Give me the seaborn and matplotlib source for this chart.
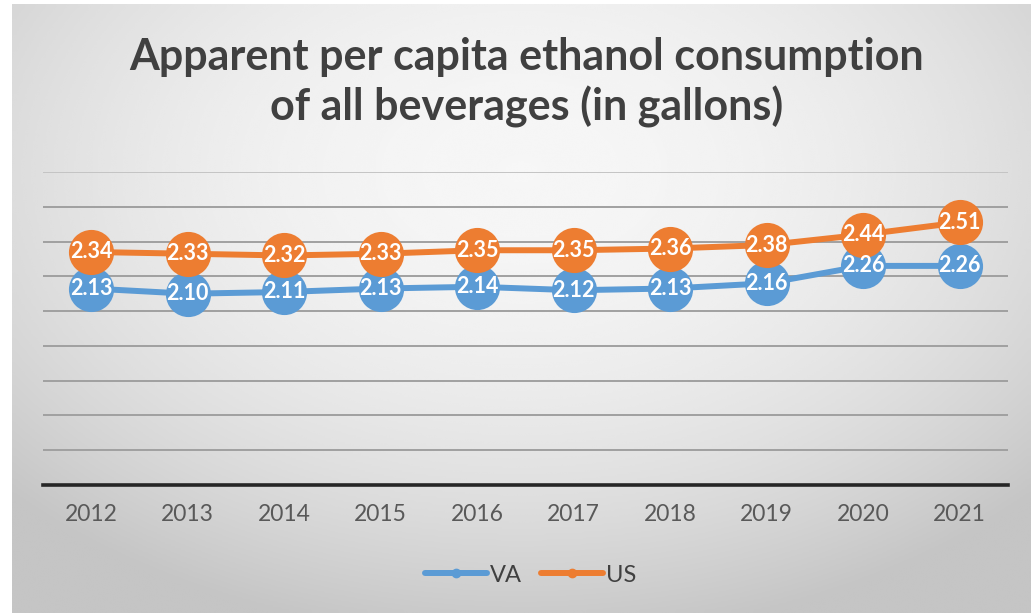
import numpy as np
import pandas as pd
import matplotlib
matplotlib.use("Agg")
import matplotlib.pyplot as plt
from matplotlib.lines import Line2D
import seaborn as sns

# Apparent per capita ethanol consumption, gallons
years = [2012, 2013, 2014, 2015, 2016, 2017, 2018, 2019, 2020, 2021]
va_values = [2.13, 2.10, 2.11, 2.13, 2.14, 2.12, 2.13, 2.16, 2.26, 2.26]
us_values = [2.34, 2.33, 2.32, 2.33, 2.35, 2.35, 2.36, 2.38, 2.44, 2.51]
series_names = ["VA", "US"]
colors = {"VA": "#5B9BD5", "US": "#ED7D31"}

df = pd.DataFrame({
    "year": years * 2,
    "value": va_values + us_values,
    "region": ["VA"] * len(years) + ["US"] * len(years),
})

sns.set_theme(style="white")
plt.rcParams["font.family"] = ["Lato", "DejaVu Sans"]

W, H = 1031, 613
fig = plt.figure(figsize=(W / 100, H / 100), dpi=100)
fig.patch.set_facecolor("white")

# Soft radial gradient panel behind the chart
bg = fig.add_axes([12 / W, 0, 1 - 12 / W, 1 - 4 / H], zorder=0)
yy, xx = np.mgrid[-1:1:300j, -1:1:500j]
r2 = (xx * 1.0) ** 2 + ((yy + 0.45) * 0.9) ** 2
shade = np.clip(0.965 - 0.10 * r2, 0.77, 0.97)
bg.imshow(shade, cmap="gray", vmin=0, vmax=1, aspect="auto",
          extent=[0, 1, 0, 1], interpolation="bicubic")
bg.set_axis_off()

ax = fig.add_axes([43 / W, (H - 485) / H, (1008 - 43) / W, (485 - 172) / H], zorder=1)
ax.patch.set_alpha(0)

sns.lineplot(data=df, x="year", y="value", hue="region", hue_order=series_names,
             palette=colors, marker="o", markersize=32.5, markeredgewidth=0,
             linewidth=4.3, legend=False, ax=ax, zorder=3)

for name, vals in zip(series_names, [va_values, us_values]):
    for x, v in zip(years, vals):
        ax.text(x, v, f"{v:.2f}", ha="center", va="center", color="white",
                fontsize=15.5, fontweight="bold", zorder=5)

ax.set_xlim(years[0] - 0.5, years[-1] + 0.5)
ax.set_ylim(1.0, 2.8)
ax.set_yticks(np.arange(1.0, 2.81, 0.2))
ax.set_yticklabels([])
ax.tick_params(axis="y", length=0)
ax.yaxis.grid(True, color="#a0a0a0", linewidth=1.4)
ax.get_ygridlines()[-1].set_color("#c4c4c4")
ax.set_axisbelow(True)
ax.set_xticks(years)
ax.set_xticklabels([str(y) for y in years], fontsize=16.5, color="#595959")
ax.tick_params(axis="x", length=0, pad=14)
ax.set_xlabel("")
ax.set_ylabel("")
for side in ["top", "right", "left"]:
    ax.spines[side].set_visible(False)
ax.spines["bottom"].set_color("#262626")
ax.spines["bottom"].set_linewidth(2.6)

fig.text(527 / W, 1 - 57 / H, "Apparent per capita ethanol consumption",
         ha="center", va="center", fontsize=31, fontweight="bold", color="#404040")
fig.text(527 / W, 1 - 107 / H, "of all beverages (in gallons)",
         ha="center", va="center", fontsize=31, fontweight="bold", color="#404040")

handles = [Line2D([0], [0], color=colors[n], linewidth=4.3, marker="o",
                  markersize=6) for n in series_names]
fig.legend(handles, series_names, loc="center", bbox_to_anchor=(531 / W, 1 - 575 / H),
           ncol=2, frameon=False, fontsize=17, handlelength=2.6, handletextpad=0.15,
           columnspacing=0.8, labelcolor="#404040")

fig.savefig("out.png", dpi=100, facecolor=fig.get_facecolor())
